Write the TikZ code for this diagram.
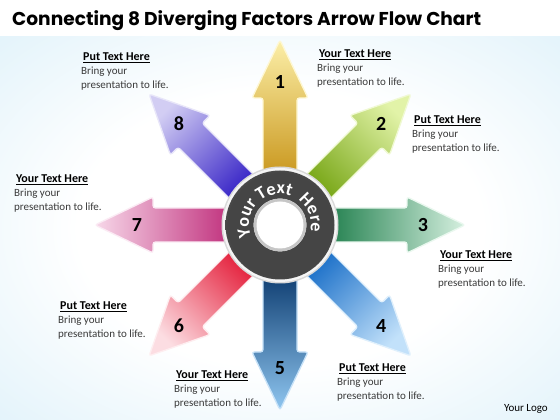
\documentclass[tikz,border=0pt]{standalone}
\usepackage{fontspec}
\setmainfont{Carlito}
\newfontfamily\titlefont{Poppins}
\usetikzlibrary{decorations.text,calc}
\definecolor{bgblue}{HTML}{CDEAF7}
\definecolor{ringdk}{HTML}{454545}
\definecolor{ringmd}{HTML}{7E7E7E}
\definecolor{ringdkb}{HTML}{4A4A4A}
\definecolor{bodygray}{HTML}{3A3A3A}
\definecolor{aA}{HTML}{C8951A}\definecolor{aAt}{HTML}{FCEFA8}
\definecolor{aB}{HTML}{76A514}\definecolor{aBt}{HTML}{E2F3A8}
\definecolor{aC}{HTML}{1F7E4C}\definecolor{aCt}{HTML}{D6F0E0}
\definecolor{aD}{HTML}{1A6FC8}\definecolor{aDt}{HTML}{C2E1FA}
\definecolor{aE}{HTML}{0B3A6E}\definecolor{aEt}{HTML}{8FC6F0}
\definecolor{aF}{HTML}{E41E3A}\definecolor{aFt}{HTML}{FCDDE2}
\definecolor{aG}{HTML}{BF2C7A}\definecolor{aGt}{HTML}{F7D8E9}
\definecolor{aH}{HTML}{3522C6}\definecolor{aHt}{HTML}{D2CDF3}
\pgfdeclareradialshading{bgshade}{\pgfpoint{0bp}{0bp}}{color(0bp)=(white); color(18bp)=(white); color(50bp)=(bgblue); color(72bp)=(bgblue)}
\pgfdeclareradialshading{ringshade}{\pgfpoint{0bp}{0bp}}{color(0bp)=(ringdk); color(24bp)=(ringdk); color(38bp)=(ringmd); color(50bp)=(ringdkb); color(72bp)=(ringdkb)}
\tikzset{
  num/.style={font=\bfseries\fontsize{20}{20}\selectfont, text=black, inner sep=0pt},
  hd/.style={font=\bfseries\fontsize{12}{14}\selectfont, text=black, inner sep=0pt},
  bd/.style={font=\fontsize{11}{13}\selectfont, text=bodygray, inner sep=0pt},
}
\newcommand\myarrow[3]{%
  \pgfmathsetmacro\sha{#1-90}%
  \begin{scope}[shift={(C)}, rotate=#1]
    \shade[top color=#3, bottom color=#2, shading angle=\sha, draw=#3!50!white, line width=1.3pt, rounded corners=2.5pt]
      (45,-17) -- (127,-17) -- (127,-28) -- (185,0) -- (127,28) -- (127,17) -- (45,17) -- cycle;
  \end{scope}}
\newcommand\txtblock[4]{%
  \node[hd, anchor=base west] (#1h) at (#2+2, 420-#3-4) {\underline{#4}};
  \node[bd, anchor=base west] (#1a) at (#2, 420-#3-18) {Bring your};
  \node[bd, anchor=base west] (#1b) at (#2, 420-#3-32) {presentation to life.};}
\begin{document}
\begin{tikzpicture}[x=1pt, y=1pt]
\useasboundingbox (0,0) rectangle (560,420);
\fill[white] (0,0) rectangle (560,420);
\shade[shading=bgshade] (0,0) rectangle (560,383);
\coordinate (C) at (280,195);
% arrows
\myarrow{90}{aA}{aAt}
\myarrow{45}{aB}{aBt}
\myarrow{0}{aC}{aCt}
\myarrow{-45}{aD}{aDt}
\myarrow{-90}{aE}{aEt}
\myarrow{-135}{aF}{aFt}
\myarrow{180}{aG}{aGt}
\myarrow{135}{aH}{aHt}
% ring
\fill[gray!30] (C) circle (58.5);
\fill[white!92!gray] (C) circle (57);
\shade[shading=ringshade, even odd rule] (C) circle (54.5) (C) circle (26.5);
\fill[gray!45] (C) circle (26.5);
\fill[white] (C) circle (23.5);
\path[decorate, decoration={text along path, text={|\fontsize{18}{18}\selectfont\bfseries\color{white}|Your Text { }Here}, text align=center}]
  ([shift={(200:31)}]C) arc[start angle=200, end angle=-10, radius=31];
% numbers
\node[num] (n1) at ($(C)+(90:143)$) {1};
\node[num] (n2) at ($(C)+(45:143)$) {2};
\node[num] (n3) at ($(C)+(0:143)$) {3};
\node[num] (n4) at ($(C)+(-45:143)$) {4};
\node[num] (n5) at ($(C)+(-90:143)$) {5};
\node[num] (n6) at ($(C)+(-135:143)$) {6};
\node[num] (n7) at ($(C)+(180:143)$) {7};
\node[num] (n8) at ($(C)+(135:143)$) {8};
% title
\node[anchor=base west, inner sep=0pt, font=\titlefont\bfseries\fontsize{18.6}{20}\selectfont] (title) at (12,394) {Connecting 8 Diverging Factors Arrow Flow Chart};
% text blocks
\txtblock{t1}{317}{54}{Your Text Here}
\txtblock{t2}{412}{120}{Put Text Here}
\txtblock{t3}{438}{255}{Your Text Here}
\txtblock{t4}{337}{368}{Put Text Here}
\txtblock{t5}{174}{375}{Your Text Here}
\txtblock{t6}{58}{306}{Put Text Here}
\txtblock{t7}{14}{179}{Your Text Here}
\txtblock{t8}{81}{57}{Put Text Here}
\node[bd, anchor=base east, text=black] (logo) at (548,8) {Your Logo};
\end{tikzpicture}
\end{document}
